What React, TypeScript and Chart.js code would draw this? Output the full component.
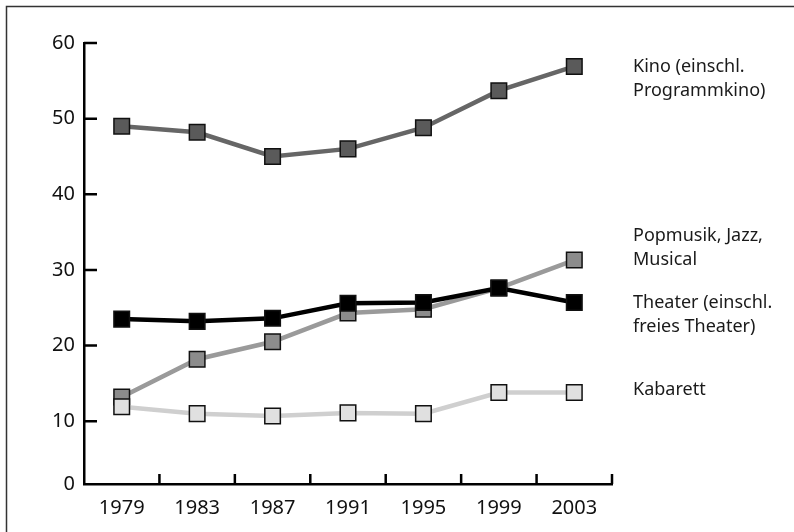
import React, { useEffect, useRef } from "react";
import { Chart, registerables } from "chart.js";

Chart.register(...registerables);

const years = ["1979", "1983", "1987", "1991", "1995", "1999", "2003"];
const theater = [23.5, 23.2, 23.6, 25.6, 25.7, 27.6, 25.7];
const kino = [49.0, 48.2, 45.0, 46.0, 48.8, 53.7, 56.9];
const popmusik = [13.2, 18.2, 20.5, 24.3, 24.8, 27.6, 31.3];
const kabarett = [11.9, 11.0, 10.7, 11.1, 11.0, 13.8, 13.8];

const yTickValues = [10, 20, 30, 40, 50, 60];
const yAxisFloor = 1.7; // value where the drawn axis crosses (labelled "0")
const yAxisTop = 60;

const kinoLabel = ["Kino (einschl.", "Programmkino)"];
const popLabel = ["Popmusik, Jazz,", "Musical"];
const theaterLabel = ["Theater (einschl.", "freies Theater)"];
const kabarettLabel = ["Kabarett"];

const FONT = "'Noto Sans', 'Open Sans', sans-serif";

export default function App() {
  const ref = useRef<HTMLCanvasElement | null>(null);

  useEffect(() => {
    if (!ref.current) return;

    const seriesLabels = [
      { lines: theaterLabel, anchorLine: 0, nudge: 0 },
      { lines: kinoLabel, anchorLine: 0, nudge: 0 },
      { lines: kabarettLabel, anchorLine: 0, nudge: -3 },
      { lines: popLabel, anchorLine: 1, nudge: 0 },
    ];

    const decor = {
      id: "decor",
      afterDraw(chart: any) {
        const ctx = chart.ctx;
        const area = chart.chartArea;
        const x = chart.scales.x;
        const y = chart.scales.y;
        ctx.save();
        // frame
        ctx.strokeStyle = "#333";
        ctx.lineWidth = 1.5;
        ctx.strokeRect(6.5, 6.5, 900, 700);
        // y ticks (inward)
        ctx.strokeStyle = "#000";
        ctx.lineWidth = 2.5;
        ctx.beginPath();
        yTickValues.forEach((v) => {
          const py = y.getPixelForValue(v);
          ctx.moveTo(area.left, py);
          ctx.lineTo(area.left + 13, py);
        });
        // x ticks at category boundaries (inward)
        for (let i = 0; i < years.length; i++) {
          const cur = x.getPixelForValue(i);
          const next = i < years.length - 1 ? x.getPixelForValue(i + 1) : cur + (cur - x.getPixelForValue(i - 1));
          const bx = (cur + next) / 2;
          ctx.moveTo(bx, area.bottom);
          ctx.lineTo(bx, area.bottom - 10);
        }
        ctx.stroke();
        // series labels on the right
        ctx.fillStyle = "#1a1a1a";
        ctx.font = `18px ${FONT}`;
        ctx.textAlign = "left";
        ctx.textBaseline = "middle";
        const lh = 24;
        chart.data.datasets.forEach((ds: any, di: number) => {
          const info = seriesLabels[di];
          const last = ds.data[ds.data.length - 1];
          const py = y.getPixelForValue(last) + info.nudge;
          info.lines.forEach((t: string, li: number) => {
            ctx.fillText(t, area.right + 21, py + (li - info.anchorLine) * lh);
          });
        });
        ctx.restore();
      },
    };

    const mk = (data: number[], line: string, fill: string) => ({
      data,
      borderColor: line,
      backgroundColor: fill,
      borderWidth: 4.5,
      pointStyle: "rect",
      pointRadius: 11,
      pointBorderColor: "#111",
      pointBorderWidth: 1.5,
      pointBackgroundColor: fill,
      tension: 0,
    });

    const chart = new Chart(ref.current, {
      type: "line",
      data: {
        labels: years,
        datasets: [
          mk(theater, "#000000", "#000000"),
          mk(kino, "#666666", "#5a5a5a"),
          mk(kabarett, "#cfcfcf", "#e0e0e0"),
          mk(popmusik, "#9a9a9a", "#8c8c8c"),
        ] as any,
      },
      options: {
        responsive: false,
        animation: false,
        layout: { padding: { left: 0, top: 43, right: 182, bottom: 0 } },
        plugins: {
          legend: { display: false },
          tooltip: { enabled: false },
        },
        scales: {
          x: {
            offset: true,
            grid: { display: false, drawTicks: false, offset: true },
            border: { display: true, color: "#000", width: 2.5 },
            ticks: {
              color: "#111",
              font: { family: FONT, size: 20 },
              padding: 12,
              maxRotation: 0,
            },
            afterFit(scale: any) {
              scale.height = 48;
              scale.paddingLeft = 0;
              scale.paddingRight = 0;
            },
          },
          y: {
            min: yAxisFloor,
            max: yAxisTop,
            grid: { display: false, drawTicks: false },
            border: { display: true, color: "#000", width: 2.5 },
            afterBuildTicks(scale: any) {
              scale.ticks = [yAxisFloor, ...yTickValues].map((v) => ({ value: v }));
            },
            ticks: {
              color: "#111",
              font: { family: FONT, size: 20 },
              padding: 9,
              callback: (v: any) => (v === yAxisFloor ? "0" : String(v)),
            },
            afterFit(scale: any) {
              scale.width = 84;
              scale.paddingTop = 0;
              scale.paddingBottom = 0;
            },
          },
        },
      },
      plugins: [decor],
    });

    return () => chart.destroy();
  }, []);

  return (
    <div style={{ position: "absolute", left: 0, top: 0, width: 794, height: 532, background: "#fff" }}>
      <canvas ref={ref} width={794} height={532} />
    </div>
  );
}
